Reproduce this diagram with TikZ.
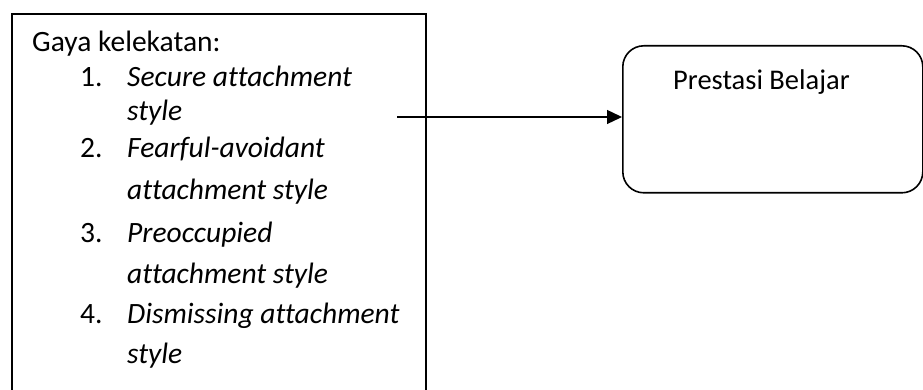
\documentclass[tikz,border=0pt]{standalone}
\usepackage{fontspec}
\setmainfont[Ligatures=NoCommon]{Carlito}
\usetikzlibrary{arrows.meta}
\begin{document}
\begin{tikzpicture}[x=1pt,y=-1pt,
  boxline/.style={draw=black,line width=1.6pt},
  txt/.style={anchor=base west,inner sep=0pt,font=\fontsize{29.5}{35}\selectfont},
  itxt/.style={txt,font=\fontsize{29.5}{35}\selectfont\itshape}]
\clip (0,0) rectangle (923,390);
\fill[white] (0,0) rectangle (923,390);
% left box (bottom lies outside the picture)
\node[boxline,rectangle,anchor=north west,minimum width=414pt,minimum height=420pt,inner sep=0pt] (left) at (11,13) {};
% right rounded box
\node[boxline,rectangle,rounded corners=21pt,anchor=north west,minimum width=300pt,minimum height=147pt,inner sep=0pt] (pb) at (622,45) {};
\node[txt,font=\fontsize{28.5}{34}\selectfont] (pbt) at (673,90) {Prestasi Belajar};
% texts in left box
\node[txt] (title) at (32,52) {Gaya kelekatan:};
\node[txt] (n1) at (80,87) {1.};
\node[itxt] (i1a) at (127,87) {Secure attachment};
\node[itxt] (i1b) at (127,121) {style};
\node[txt] (n2) at (80,158) {2.};
\node[itxt] (i2a) at (127,158) {Fearful-avoidant};
\node[itxt] (i2b) at (127,200) {attachment style};
\node[txt] (n3) at (80,242) {3.};
\node[itxt] (i3a) at (127,242) {Preoccupied};
\node[itxt] (i3b) at (127,283) {attachment style};
\node[txt] (n4) at (80,323) {4.};
\node[itxt] (i4a) at (127,323) {Dismissing attachment};
\node[itxt] (i4b) at (127,363) {style};
% arrow
\coordinate (a) at (397,117);
\draw[line width=1.3pt,-{Triangle[length=15pt,width=14pt]}] (a) -- (a -| pb.west);
\end{tikzpicture}
\end{document}
